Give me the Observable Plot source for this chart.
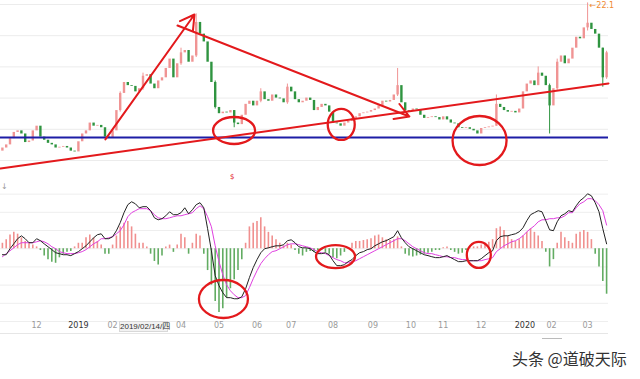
<!DOCTYPE html>
<html><head><meta charset="utf-8">
<script src="https://cdn.jsdelivr.net/npm/d3@7"></script>
<script src="https://cdn.jsdelivr.net/npm/@observablehq/plot@0.6"></script>
<style>
html,body{margin:0;padding:0;background:#fff;}
#wrap{position:relative;width:640px;height:379px;overflow:hidden;background:#fff;}
#top{position:absolute;left:0;top:0;}
#bot{position:absolute;left:0;top:182px;}
#cursor{position:absolute;left:119px;top:321px;width:49px;height:11px;background:#f2f2f2;border:1px solid #d8d8d8;box-sizing:border-box;font:8px "Liberation Sans","Noto Sans CJK SC",sans-serif;color:#333;line-height:10px;text-align:center;white-space:nowrap;}
#axline{position:absolute;left:0;top:333px;width:608px;border-top:1px solid #e6e6e6;}
#uline{position:absolute;left:542px;top:338px;width:20px;border-top:1px solid #bbb;}
#mark{position:absolute;left:1px;top:182px;font:8px "DejaVu Sans",sans-serif;color:#999;}
#wm{position:absolute;left:512px;top:346px;font:16px "Noto Sans CJK SC",sans-serif;color:#333;white-space:nowrap;}
</style></head>
<body><div id="wrap"><div id="top"></div><div id="bot"></div>
<div id="axline"></div><div id="uline"></div>
<div id="cursor">2019/02/14/四</div>
<div id="mark">↓</div>
<div id="wm">头条 @道破天际</div>
</div>
<script>
// ---- price series (close per bar) ----
const firstOpen = 12.6;
const closes = [
12.8,13.0,13.4,13.8,13.9,13.7,13.15,13.25,13.9,14.2,
13.5,13.3,13.1,13.0,12.8,12.85,12.9,12.8,12.6,12.55,
13.2,13.7,13.9,14.4,14.2,14.25,14.1,13.5,13.45,13.9,
15.2,16.3,17.0,16.8,16.75,16.4,16.6,17.4,17.5,16.9,
16.6,17.1,17.3,17.9,18.5,17.3,18.2,18.9,19.05,18.3,
18.7,20.85,20.1,19.6,18.3,17.0,15.4,15.0,15.1,15.05,
15.2,14.4,14.3,14.9,15.6,15.8,15.5,15.8,16.4,15.9,
15.8,16.2,16.0,15.95,15.7,16.7,16.4,15.9,15.7,15.8,
16.0,15.85,15.2,15.4,15.6,15.5,15.1,14.4,14.35,14.2,
14.4,14.5,14.7,14.8,15.0,15.05,15.1,15.2,15.3,15.5,
15.8,15.75,15.85,16.2,16.8,15.7,15.2,15.15,15.3,15.25,
14.9,14.7,14.75,14.8,14.75,14.6,14.8,14.6,14.4,14.35,
14.1,14.05,14.1,14.0,13.9,13.7,14.05,14.1,14.15,14.2,
15.6,15.4,15.2,15.1,15.15,15.05,15.3,16.4,16.9,17.1,
16.8,17.6,17.4,16.8,15.5,16.6,18.3,18.7,18.2,18.5,
19.2,19.9,19.8,20.5,20.8,20.4,20.1,19.2,17.3,18.9];
// notable wicks: [bar, high, low]
const wicks = [[31,16.4,15.1],[37,17.6,16.5],[47,19.2,18.1],[51,21.4,18.6],[56,17.1,15.3],
[61,15.2,14.1],[68,16.6,15.7],[75,16.9,15.6],[104,17.9,16.1],[130,16.2,14.2],
[141,18.0,16.8],[144,16.9,13.7],[146,18.5,16.5],[154,22.1,20.3],[158,19.2,16.7],[159,19.0,17.2]];
const maxHigh = 22.1, maxBar = 154;
// ---- MACD ----
const dif = [
-0.33,-0.33,0.0,0.27,0.55,0.71,0.55,0.33,0.33,0.55,
0.44,0.27,0.11,-0.05,-0.22,-0.27,-0.33,-0.33,-0.38,-0.27,
-0.16,0.0,0.16,0.38,0.60,0.77,0.82,0.55,0.55,0.66,
0.99,1.43,1.98,2.42,2.58,2.47,2.25,2.31,2.31,2.09,
1.70,1.59,1.65,1.81,2.03,1.87,1.87,1.98,2.25,1.92,
2.14,2.42,2.53,2.25,1.10,-0.11,-1.48,-2.03,-2.42,-2.69,
-2.69,-2.75,-2.75,-2.64,-2.20,-1.59,-1.04,-0.60,-0.22,0.0,
0.05,0.11,0.16,0.16,0.22,0.44,0.49,0.33,0.11,0.05,
0.05,0.0,-0.16,-0.27,-0.27,-0.22,-0.33,-0.66,-0.93,-0.93,
-0.88,-0.71,-0.60,-0.38,-0.22,-0.16,-0.05,0.0,0.16,0.27,
0.38,0.44,0.55,0.66,0.99,0.60,0.33,0.11,0.0,-0.11,
-0.22,-0.33,-0.38,-0.44,-0.49,-0.49,-0.44,-0.38,-0.49,-0.60,
-0.71,-0.71,-0.66,-0.66,-0.66,-0.66,-0.55,-0.38,-0.22,-0.11,
0.44,0.66,0.71,0.71,0.77,0.82,0.93,1.15,1.54,1.87,
1.98,2.09,2.03,1.54,1.04,0.99,1.48,1.81,1.92,2.09,
2.03,2.36,2.64,2.80,3.02,2.91,2.53,2.03,1.10,0.27];
const dea = [
-0.44,-0.27,-0.11,0.05,0.22,0.33,0.33,0.33,0.33,0.38,
0.44,0.38,0.27,0.11,0.0,-0.16,-0.22,-0.27,-0.27,-0.27,
-0.22,-0.16,-0.05,0.11,0.27,0.38,0.55,0.55,0.60,0.66,
0.82,0.99,1.32,1.76,1.98,2.09,2.20,2.20,2.20,2.09,
1.87,1.70,1.65,1.65,1.70,1.76,1.81,1.81,1.87,1.92,
1.98,2.20,2.36,2.20,1.76,1.21,0.16,-0.71,-1.43,-1.98,
-2.31,-2.53,-2.69,-2.69,-2.58,-2.14,-1.65,-1.21,-0.82,-0.55,
-0.33,-0.16,-0.11,0.0,0.11,0.22,0.27,0.27,0.22,0.16,
0.11,0.05,-0.05,-0.16,-0.22,-0.27,-0.38,-0.49,-0.60,-0.66,
-0.77,-0.77,-0.71,-0.66,-0.55,-0.44,-0.33,-0.22,-0.11,0.0,
0.11,0.22,0.33,0.44,0.55,0.55,0.44,0.27,0.11,0.0,
-0.11,-0.22,-0.27,-0.27,-0.33,-0.38,-0.44,-0.44,-0.49,-0.49,
-0.55,-0.60,-0.60,-0.66,-0.66,-0.66,-0.66,-0.60,-0.55,-0.49,
-0.16,0.0,0.16,0.27,0.38,0.44,0.55,0.71,0.93,1.10,
1.26,1.48,1.59,1.59,1.65,1.65,1.70,1.70,1.81,1.98,
1.98,2.25,2.47,2.58,2.75,2.75,2.64,2.42,2.09,1.30];
const hist = [
0.3,0.5,0.75,0.9,0.8,0.6,0.4,0.3,0.2,0.1,
-0.1,-0.4,-0.6,-0.75,-0.8,-0.5,-0.3,-0.2,-0.15,0.1,
0.3,0.3,0.6,0.75,0.6,0.4,0.2,-0.3,-0.3,0.2,
0.7,1.2,1.4,1.5,1.2,0.8,0.3,0.3,0.1,-0.3,
-0.7,-0.9,-0.4,0.1,0.2,-0.2,0.2,0.8,0.6,-0.3,
0.3,0.8,0.7,-0.3,-1.2,-2.0,-2.9,-3.5,-3.3,-2.7,
-2.2,-1.7,-1.2,-0.6,0.3,1.2,1.4,1.5,1.7,1.2,
0.9,0.7,0.5,0.3,0.15,0.3,0.2,-0.1,-0.3,-0.4,
-0.2,-0.15,-0.2,-0.1,-0.1,-0.2,-0.3,-0.5,-0.55,-0.4,
-0.2,0.05,0.3,0.4,0.4,0.45,0.5,0.55,0.7,0.75,
0.6,0.5,0.45,0.5,0.65,0.1,-0.3,-0.4,-0.45,-0.4,
-0.35,-0.3,-0.25,-0.2,-0.1,-0.1,0.05,0.1,-0.1,-0.2,
-0.3,-0.25,-0.1,0.05,0.1,0.1,0.2,0.3,0.35,0.5,
1.1,1.2,1.0,0.7,0.5,0.4,0.5,0.7,0.9,1.1,
0.9,0.7,0.4,-0.2,-1.0,-0.6,0.3,0.9,0.6,0.4,
0.3,0.8,0.9,1.0,0.9,0.5,-0.3,-1.0,-1.8,-2.5];
// ---- axis ticks (the March 2019 tick is hidden under the cursor date box) ----
const tickBars = [9,20,29,47,57,67,76,87,97.5,107.5,116,126,137.5,144.5,154];
const tickLabels = ["12","2019","02","04","05","06","07","08","09","10","11","12","2020","02","03"];
const priceGrid = [12,14,16,18,20,22];
const macdGrid = [-4,-3,-2,-1,0,1,2,3];
// ---- annotations (data coordinates) ----
const blueLevel = 13.47;
const trendLine = [{i:-0.5,p:11.49},{i:159.5,p:16.94}];
const arrows = [{x1:27.1,y1:13.35,x2:50.55,y2:21.36},{x1:46.08,y1:20.65,x2:107.1,y2:14.82}];
const topRings = [{i:61.1,v:13.89,rx:21,ry:13.5},{i:89.3,v:14.28,rx:13.5,ry:15.5},{i:125.7,v:13.25,rx:27,ry:24.5}];
const botRings = [{i:58.3,v:-2.79,rx:24.5,ry:19},{i:87.8,v:-0.46,rx:19.5,ry:11.5},{i:125.5,v:-0.37,rx:12,ry:13}];

const UP = "#f09494", DOWN = "#2f9440", RED = "#e3191c";
const candles = closes.map((c, i) => ({i, open: i ? closes[i - 1] : firstOpen, close: c}));
const wickRows = wicks.map(([i, h, l]) => ({i, high: h, low: l, up: candles[i].close >= candles[i].open}));
const macd = dif.map((d, i) => ({i, dif: d, dea: dea[i], hist: hist[i]}));
const ticks = tickBars.map((b, k) => ({b, label: tickLabels[k], year: tickLabels[k].length === 4}));

const xOpt = {domain: [-0.5, 159.5], axis: null};
const topPlot = Plot.plot({
  width: 640, height: 182, marginLeft: 0, marginRight: 32, marginTop: 0, marginBottom: 0,
  x: xOpt, y: {domain: [10.59, 22.256], axis: null}, color: {type: "identity"},
  style: {fontFamily: "DejaVu Sans, sans-serif", background: "transparent"},
  marks: [
    Plot.ruleY(priceGrid, {stroke: "#ececec"}),
    Plot.ruleX(wickRows, {x: "i", y1: "low", y2: "high", stroke: d => d.up ? UP : DOWN, strokeWidth: 1}),
    Plot.ruleX(candles, {x: "i", y1: "open", y2: "close", stroke: d => d.close >= d.open ? UP : DOWN, strokeWidth: 2.4}),
    Plot.ruleY([blueLevel], {stroke: "#1d1da6", strokeWidth: 2}),
    Plot.line(trendLine, {x: "i", y: "p", stroke: RED, strokeWidth: 2}),
    Plot.arrow(arrows, {x1: "x1", y1: "y1", x2: "x2", y2: "y2", stroke: RED, strokeWidth: 2, headLength: 12}),
    Plot.text([{i: maxBar, p: maxHigh}], {x: "i", y: "p", text: d => "←" + d.p, textAnchor: "start", dx: 2, dy: 3, fill: "#f08a30", fontSize: 8}),
    Plot.text([{i: 60.5, p: 10.97}], {x: "i", y: "p", text: () => "$", fill: RED, fontSize: 7})
  ]
});
const botPlot = Plot.plot({
  width: 640, height: 197, marginLeft: 0, marginRight: 32, marginTop: 8, marginBottom: 58,
  x: xOpt, y: {domain: [-4, 3.2], axis: null}, color: {type: "identity"},
  style: {fontFamily: "DejaVu Sans, sans-serif", background: "transparent"},
  marks: [
    Plot.ruleY(macdGrid, {stroke: "#eeeeee"}),
    Plot.ruleX(macd, {x: "i", y1: 0, y2: "hist", stroke: d => d.hist >= 0 ? "#f0908f" : "#62ac62", strokeWidth: 1.6}),
    Plot.line(macd, {x: "i", y: "dea", stroke: "#e040e0", strokeWidth: 1}),
    Plot.line(macd, {x: "i", y: "dif", stroke: "#222", strokeWidth: 1}),
    Plot.text(ticks, {x: "b", text: "label", frameAnchor: "bottom", dy: 6, fontSize: 8,
      fill: d => d.year ? "#333" : "#9a9a9a", fontWeight: d => d.year ? "bold" : "normal"})
  ]
});
document.getElementById("top").appendChild(topPlot);
document.getElementById("bot").appendChild(botPlot);

function rings(plot, list) {
  const sx = plot.scale("x"), sy = plot.scale("y");
  const fx = sx.apply ? (v => sx.apply(v)) : d3.scaleLinear(sx.domain, sx.range);
  const fy = sy.apply ? (v => sy.apply(v)) : d3.scaleLinear(sy.domain, sy.range);
  const svg = d3.select(plot);
  for (const e of list) {
    svg.append("ellipse").attr("cx", fx(e.i)).attr("cy", fy(e.v)).attr("rx", e.rx).attr("ry", e.ry)
      .attr("fill", "none").attr("stroke", RED).attr("stroke-width", 2.3);
  }
}
rings(topPlot, topRings);
rings(botPlot, botRings);
</script>
</body></html>
